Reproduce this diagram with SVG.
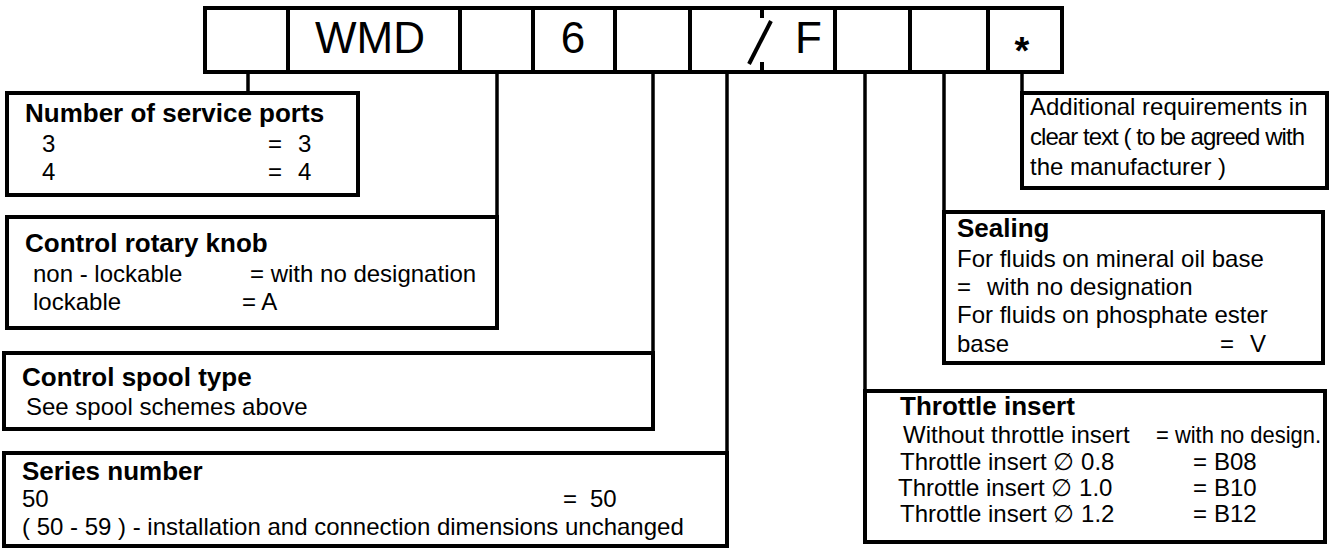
<svg xmlns="http://www.w3.org/2000/svg" width="1333" height="553" viewBox="0 0 1333 553">
<style>
.box{fill:#fff;stroke:#000;stroke-width:4}
.ln{stroke:#000;stroke-width:4;fill:none}
.conn{stroke:#000;stroke-width:3.5;fill:none}
text{font-family:"Liberation Sans",Arial,Helvetica,sans-serif;font-size:24px;fill:#000}
.b{font-weight:bold;font-size:26px}
.big{font-size:44px}
</style>
<rect width="1333" height="553" fill="#fff"/>
<g id="connectors">
<line class="conn" x1="248" y1="72" x2="248" y2="93"/>
<line class="conn" x1="497" y1="72" x2="497" y2="217"/>
<line class="conn" x1="653" y1="72" x2="653" y2="353"/>
<line class="conn" x1="727" y1="72" x2="727" y2="453"/>
<line class="conn" x1="865" y1="72" x2="865" y2="391"/>
<line class="conn" x1="944" y1="72" x2="944" y2="212"/>
<line class="conn" x1="1022" y1="72" x2="1022" y2="93"/>
</g>
<g id="code">
<rect class="box" x="205" y="8" width="857" height="64"/>
<line class="ln" x1="288" y1="8" x2="288" y2="72"/>
<line class="ln" x1="460" y1="8" x2="460" y2="72"/>
<line class="ln" x1="533" y1="8" x2="533" y2="72"/>
<line class="ln" x1="615" y1="8" x2="615" y2="72"/>
<line class="ln" x1="690" y1="8" x2="690" y2="72"/>
<line class="ln" x1="835" y1="8" x2="835" y2="72"/>
<line class="ln" x1="910" y1="8" x2="910" y2="72"/>
<line class="ln" x1="988" y1="8" x2="988" y2="72"/>
<line class="ln" x1="762" y1="8" x2="762" y2="18"/>
<line class="ln" x1="762" y1="62" x2="762" y2="72"/>
<line class="ln" x1="749" y1="64" x2="771" y2="21"/>
<text class="big" x="370" y="53" text-anchor="middle">WMD</text>
<text class="big" x="573" y="53" text-anchor="middle">6</text>
<text class="big" x="795" y="53">F</text>
<text x="1022" y="64" text-anchor="middle" style="font-weight:bold;font-size:38px">*</text>
</g>
<g id="ports">
<rect class="box" x="7" y="93" width="351" height="102"/>
<text class="b" x="25" y="122">Number of service ports</text>
<text x="42" y="152">3</text>
<text x="268" y="152">=<tspan x="298">3</tspan></text>
<text x="42" y="180">4</text>
<text x="268" y="180">=<tspan x="298">4</tspan></text>
</g>
<g id="knob">
<rect class="box" x="7" y="217" width="490" height="111"/>
<text class="b" x="25" y="252">Control rotary knob</text>
<text x="33" y="282">non - lockable</text>
<text x="250" y="282">= with no designation</text>
<text x="33" y="310">lockable</text>
<text x="242" y="310">= A</text>
</g>
<g id="spool">
<rect class="box" x="4" y="353" width="649" height="76"/>
<text class="b" x="22" y="386">Control spool type</text>
<text x="26" y="415">See spool schemes above</text>
</g>
<g id="series">
<rect class="box" x="4" y="453" width="723" height="93"/>
<text class="b" x="22" y="480">Series number</text>
<text x="22" y="507">50</text>
<text x="563" y="507">=<tspan x="590">50</tspan></text>
<text x="22" y="535">( 50 - 59 ) - installation and connection dimensions unchanged</text>
</g>
<g id="additional">
<rect class="box" x="1022" y="93" width="305" height="95"/>
<text x="1030" y="115">Additional requirements in</text>
<text x="1030" y="145" textLength="275" lengthAdjust="spacing">clear text ( to be agreed with</text>
<text x="1030" y="175">the manufacturer )</text>
</g>
<g id="sealing">
<rect class="box" x="944" y="212" width="379" height="151"/>
<text class="b" x="957" y="237">Sealing</text>
<text x="957" y="267">For fluids on mineral oil base</text>
<text x="957" y="295">=<tspan x="987">with no designation</tspan></text>
<text x="957" y="323">For fluids on phosphate ester</text>
<text x="957" y="352">base<tspan x="1220">=</tspan><tspan x="1250">V</tspan></text>
</g>
<g id="throttle">
<rect class="box" x="865" y="391" width="460" height="151"/>
<text class="b" x="900" y="415">Throttle insert</text>
<text x="903" y="443">Without throttle insert</text>
<text x="1156" y="443" textLength="165" lengthAdjust="spacingAndGlyphs">= with no design.</text>
<text x="900" y="470">Throttle insert ∅ 0.8<tspan x="1193">=</tspan><tspan x="1214">B08</tspan></text>
<text x="898" y="496">Throttle insert ∅ 1.0<tspan x="1193">=</tspan><tspan x="1214">B10</tspan></text>
<text x="900" y="522">Throttle insert ∅ 1.2<tspan x="1193">=</tspan><tspan x="1214">B12</tspan></text>
</g>
</svg>
